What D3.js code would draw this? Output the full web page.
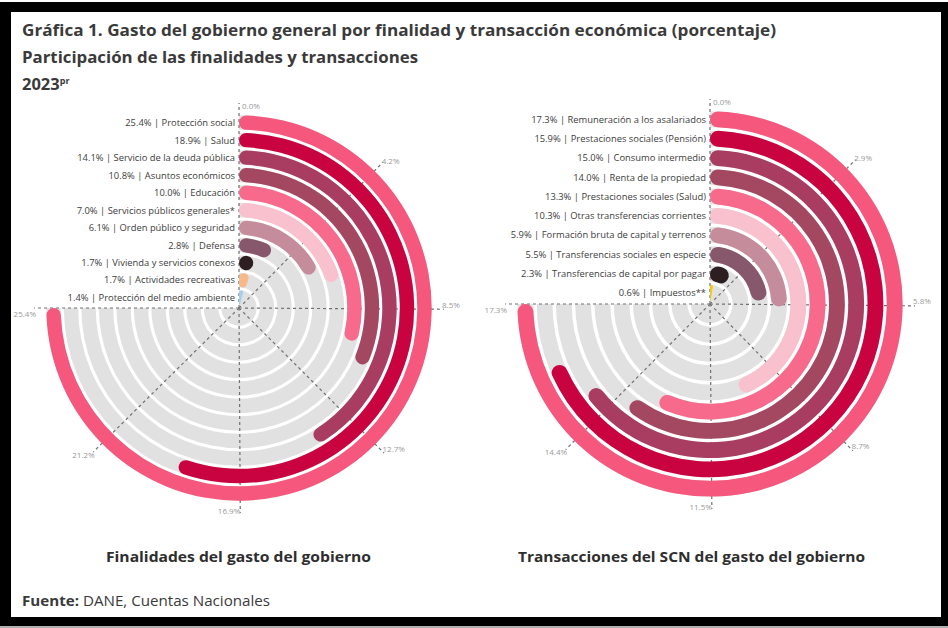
<!DOCTYPE html>
<html><head><meta charset="utf-8">
<script src="https://cdn.jsdelivr.net/npm/d3@7"></script>
<style>body{margin:0;background:#fff}svg{display:block}</style>
</head><body><svg id="c" width="948" height="628"></svg>
<script>
// ---- data ----
const finCategories = ["Protección social","Salud","Servicio de la deuda pública","Asuntos económicos","Educación","Servicios públicos generales*","Orden público y seguridad","Defensa","Vivienda y servicios conexos","Actividades recreativas","Protección del medio ambiente"];
const finValues = [25.4,18.9,14.1,10.8,10.0,7.0,6.1,2.8,1.7,1.7,1.4];
const finTicks = [0,4.2,8.5,12.7,16.9,21.2,25.4];

const traCategories = ["Remuneración a los asalariados","Prestaciones sociales (Pensión)","Consumo intermedio","Renta de la propiedad","Prestaciones sociales (Salud)","Otras transferencias corrientes","Formación bruta de capital y terrenos","Transferencias sociales en especie","Transferencias de capital por pagar","Impuestos**"];
const traValues = [17.3,15.9,15.0,14.0,13.3,10.3,5.9,5.5,2.3,0.6];
const traTicks = [0,2.9,5.8,8.7,11.5,14.4,17.3];

// ---- styles ----
const finColors = ['#F5577D','#C8033F','#A93C61','#A44862','#F76A8B','#F9C1CD','#C58C9C','#87586B','#2D1E22','#F7B98B','#A8CCEC'];
const traColors = ['#F5577D','#C8033F','#A93C61','#A44862','#F76A8B','#F9C1CD','#C58C9C','#87586B','#2D1E22','#F2C811'];

const svg = d3.select('#c');
// frame
svg.append('rect').attr('x',0).attr('y',0).attr('width',948).attr('height',628).attr('fill','#000');
svg.append('rect').attr('x',0).attr('y',0).attr('width',948).attr('height',2).attr('fill','#fff');
svg.append('rect').attr('x',0).attr('y',626).attr('width',948).attr('height',2).attr('fill','#b0b0b0');
svg.append('rect').attr('x',11).attr('y',12).attr('width',930).attr('height',605).attr('fill','#fff');

function fitText(sel, w){ sel.attr('textLength', w).attr('lengthAdjust','spacingAndGlyphs'); }

const titleFont = "'Open Sans', 'Noto Sans', sans-serif";
const t1 = svg.append('text').attr('x',22).attr('y',36).attr('font-family',titleFont).attr('font-weight',700)
  .attr('font-size',16.5).attr('fill','#3a3a3a').text('Gráfica 1. Gasto del gobierno general por finalidad y transacción económica (porcentaje)');
fitText(t1, 754);
const t2 = svg.append('text').attr('x',22).attr('y',63).attr('font-family',titleFont).attr('font-weight',700)
  .attr('font-size',16.5).attr('fill','#3a3a3a').text('Participación de las finalidades y transacciones');
fitText(t2, 396);
const t3 = svg.append('text').attr('x',22).attr('y',90).attr('font-family',titleFont).attr('font-weight',700)
  .attr('font-size',16.5).attr('fill','#3a3a3a');
t3.append('tspan').text('2023');
t3.append('tspan').attr('font-size',9).attr('dy',-6).text('pr');

function drawRadial(cats, vals, ticks, colors, cx, cy, R){
  const g = svg.append('g').attr('transform',`translate(${cx},${cy})`);
  const maxV = d3.max(ticks);
  const ang = d3.scaleLinear().domain([0, maxV]).range([0, 1.5*Math.PI]);
  const rad = d3.scaleBand().domain(cats).range([R, 3]).paddingInner(0.18).paddingOuter(0.02);
  const bw = rad.bandwidth();

  // tracks
  const trackArc = d3.arc().innerRadius(d=>rad(d)).outerRadius(d=>rad(d)+bw)
    .startAngle(0).endAngle(1.5*Math.PI);
  g.selectAll('path.track').data(cats).join('path').attr('class','track')
    .attr('d', trackArc).attr('fill','#e1e1e1');

  // dashed radial grid
  const rLine = R + 12;
  g.selectAll('line.grid').data(ticks).join('line').attr('class','grid')
    .attr('x1',0).attr('y1',0)
    .attr('x2',d=>rLine*Math.sin(ang(d))).attr('y2',d=>-rLine*Math.cos(ang(d)))
    .attr('stroke','#707070').attr('stroke-width',1.2).attr('stroke-dasharray','3,3');

  // bars
  const barArc = d3.arc().innerRadius(d=>rad(d.c)).outerRadius(d=>rad(d.c)+bw)
    .startAngle(0).endAngle(d=>ang(d.v)).cornerRadius(bw/2);
  const data = cats.map((c,i)=>({c, v: vals[i], col: colors[i]}));
  g.selectAll('path.bar').data(data).join('path').attr('class','bar')
    .attr('d', barArc).attr('fill', d=>d.col);

  // category labels
  const fmt = d3.format('.1f');
  g.selectAll('text.lab').data(data).join('text').attr('class','lab')
    .attr('x',-4).attr('y',d=>-(rad(d.c)+bw/2))
    .attr('text-anchor','end').attr('dominant-baseline','central')
    .attr('font-family',"'Open Sans', sans-serif").attr('font-size',9.4).attr('fill','#404040')
    .text(d=>`${fmt(d.v)}% | ${d.c}`);

  // tick labels
  const rT = R + 10;
  g.selectAll('text.tick').data(ticks).join('text').attr('class','tick')
    .attr('x',d=>{const a=ang(d); const x=rT*Math.sin(a); return a<0.01? x+3 : x;})
    .attr('y',d=>{const a=ang(d); return -rT*Math.cos(a) - 5*Math.sin(a);})
    .attr('text-anchor',d=>ang(d) < Math.PI-0.05 ? 'start' : 'end')
    .attr('dominant-baseline','central')
    .attr('font-family',"'Open Sans', sans-serif").attr('font-size',8).attr('fill','#9a9a9a')
    .text(d=>fmt(d)+'%');
}

drawRadial(finCategories, finValues, finTicks, finColors, 239, 308, 193);
drawRadial(traCategories, traValues, traTicks, traColors, 710, 304, 193);

// subtitles
const s1 = svg.append('text').attr('x',238.5).attr('y',562).attr('text-anchor','middle')
  .attr('font-family',titleFont).attr('font-weight',700).attr('font-size',14.5).attr('fill','#2e2e2e')
  .text('Finalidades del gasto del gobierno');
fitText(s1, 265);
const s2 = svg.append('text').attr('x',691.5).attr('y',562).attr('text-anchor','middle')
  .attr('font-family',titleFont).attr('font-weight',700).attr('font-size',14.5).attr('fill','#2e2e2e')
  .text('Transacciones del SCN del gasto del gobierno');
fitText(s2, 347);

// source
const src = svg.append('text').attr('x',22).attr('y',606)
  .attr('font-family',titleFont).attr('font-size',14).attr('fill','#3a3a3a');
src.append('tspan').attr('font-weight',700).text('Fuente:');
src.append('tspan').text(' DANE, Cuentas Nacionales');
fitText(src, 248);
</script></body></html>
